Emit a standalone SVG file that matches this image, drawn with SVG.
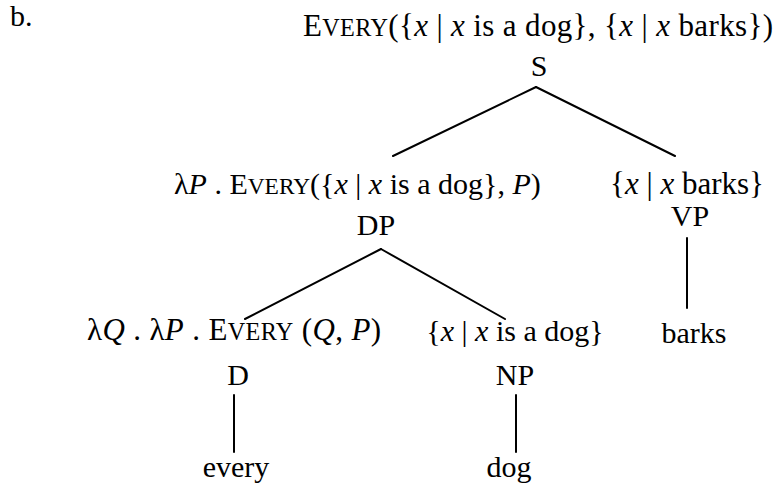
<svg xmlns="http://www.w3.org/2000/svg" width="778" height="484" viewBox="0 0 778 484" font-family="'Liberation Serif', 'Times New Roman', Times, 'DejaVu Serif', serif">
<style>
text{font-family:'Liberation Serif','Times New Roman',Times,'DejaVu Serif',serif;font-size:30px;fill:#000}
.i{font-style:italic}
.sc{font-size:0.78em}
.c{text-anchor:middle}
.big{font-size:31px}
.edge{stroke:#000;stroke-width:2;fill:none;stroke-linecap:round}
</style>
<rect width="778" height="484" fill="#fff"/>
<text x="10" y="26">b.</text>
<g id="connectors">
<line class="edge" x1="536" y1="87" x2="393" y2="156"/>
<line class="edge" x1="536" y1="87" x2="675" y2="156"/>
<line class="edge" x1="381" y1="249" x2="245" y2="319"/>
<line class="edge" x1="381" y1="249" x2="505" y2="319"/>
<line class="edge" x1="687" y1="238" x2="687" y2="308"/>
<line class="edge" x1="234" y1="395" x2="234" y2="452"/>
<line class="edge" x1="516" y1="395" x2="516" y2="452"/>
</g>
<g id="S">
<text class="big" x="303" y="36" textLength="470" lengthAdjust="spacing">E<tspan class="sc">VERY</tspan>({<tspan class="i">x</tspan> | <tspan class="i">x</tspan> is a dog}, {<tspan class="i">x</tspan> | <tspan class="i">x</tspan> barks})</text>
<text class="c" x="539" y="76">S</text>
</g>
<g id="DP">
<text x="174" y="194">λ<tspan class="i">P</tspan> . E<tspan class="sc">VERY</tspan>({<tspan class="i">x</tspan> | <tspan class="i">x</tspan> is a dog}, <tspan class="i">P</tspan>)</text>
<text class="c" x="376" y="235">DP</text>
</g>
<g id="VP">
<text class="c big" x="687" y="194">{<tspan class="i">x</tspan> | <tspan class="i">x</tspan> barks}</text>
<text class="c" x="690" y="226">VP</text>
</g>
<g id="D">
<text class="big" x="87" y="340" textLength="294" lengthAdjust="spacing">λ<tspan class="i">Q</tspan> . λ<tspan class="i">P</tspan> . E<tspan class="sc">VERY</tspan> (<tspan class="i">Q</tspan>, <tspan class="i">P</tspan>)</text>
<text class="c" x="238" y="385">D</text>
</g>
<g id="NP">
<text class="c" x="515" y="341">{<tspan class="i">x</tspan> | <tspan class="i">x</tspan> is a dog}</text>
<text class="c" x="515" y="385">NP</text>
</g>
<g id="barks">
<text class="c" x="694" y="343">barks</text>
</g>
<g id="every">
<text class="c" x="236" y="477">every</text>
</g>
<g id="dog">
<text class="c" x="509" y="477">dog</text>
</g>
</svg>
